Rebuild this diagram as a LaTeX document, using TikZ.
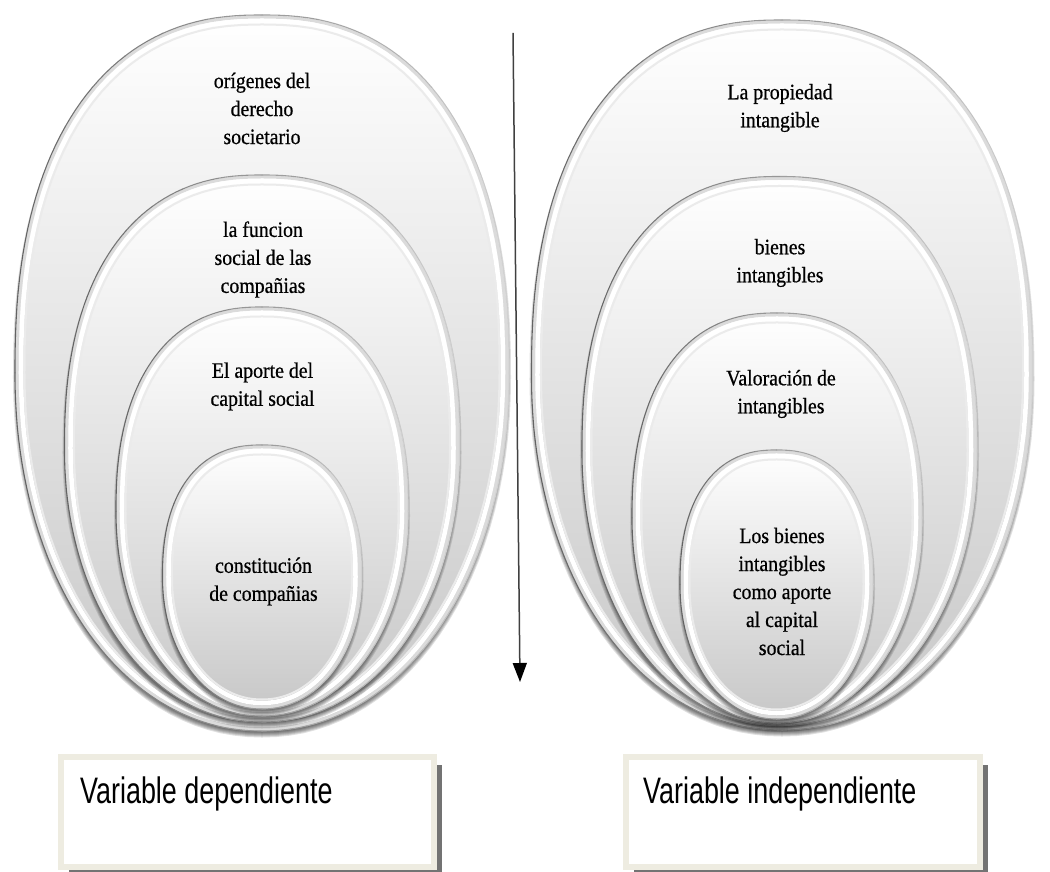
\documentclass[tikz,border=0pt]{standalone}
\usepackage{fontspec}
\setmainfont{Liberation Serif}
\newfontfamily\ovalfont[FakeStretch=0.9,FakeBold=0.6]{Liberation Serif}
\newfontfamily\boxfont[FakeStretch=0.73]{Liberation Sans}
\usetikzlibrary{arrows.meta,shadows}

\definecolor{panelbeige}{HTML}{EEECE1}

% Egg-like oval path: fuller upper half, elliptic lower half.
% Centre (#1,#2), radii #3, #4, angular range #5..#6, #7 samples
\newcommand\sovalarc[7]{%
  plot[domain=#5:#6, samples=#7, variable=\t]
    ({(#1)+(#3)*ifthenelse(cos(\t)<0,-1,1)*pow(abs(cos(\t))+0.0001,ifthenelse(sin(\t)<0,0.97,0.85))},
     {(#2)+(#4)*ifthenelse(sin(\t)<0,-1,1)*pow(abs(sin(\t))+0.0001,ifthenelse(sin(\t)<0,0.97,0.85))})}
\newcommand\soval[4]{\sovalarc{#1}{#2}{#3}{#4}{0}{357}{120} -- cycle}

% One bevelled oval: centre (#1,#2), radii #3 and #4 (in bp)
\newcommand\ovalring[4]{%
  % soft shadow under the oval
  \foreach \k in {0,...,5}{%
    \fill[black,opacity=0.12] \soval{#1}{#2-4.5}{#3+2-\k}{#4+2-\k};
  }
  % body with a top-to-bottom gradient
  \shade[top color=white, middle color=black!4, bottom color=black!22] \soval{#1}{#2}{#3}{#4};
  % bevel bands
  \draw[black!14, line width=3bp] \soval{#1}{#2}{#3-2}{#4-2};
  \draw[white, line width=4.5bp] \soval{#1}{#2}{#3-6}{#4-6};
  \draw[black!8, line width=2bp] \soval{#1}{#2}{#3-9.5}{#4-9.5};
  % rim: darker on the left, lighter on the right
  \foreach \a in {0,10,...,350}{%
    \pgfmathtruncatemacro\rimshade{40-22*cos(\a+5)}%
    \draw[black!\rimshade, line width=1.1bp, line cap=round, line join=round]
      \sovalarc{#1}{#2}{#3}{#4}{\a}{\a+10}{6};
  }%
}

\tikzset{
  ovaltext/.style={align=center, inner sep=0pt, text=black,
    font=\ovalfont\fontsize{22.1}{28.1}\selectfont},
  varbox/.style={draw=panelbeige, line width=6bp, fill=white, inner sep=0pt, outer sep=0pt,
    minimum height=110bp,
    drop shadow={shadow xshift=8bp, shadow yshift=-8bp, fill=black!55, opacity=1}},
  vartext/.style={inner sep=0pt, text=black, font=\boxfont\fontsize{37}{44}\selectfont},
  flowarrow/.style={black!75, line width=1.5bp, -{Triangle[length=19bp,width=14bp,color=black]}}
}

\begin{document}
\begin{tikzpicture}[x=1bp,y=1bp]
\useasboundingbox (0,0) rectangle (1050,872);
\fill[white] (0,0) rectangle (1050,872);

% left nest of ovals
\ovalring{262}{499}{247}{358}
\ovalring{262}{423.5}{197.5}{273.5}
\ovalring{262}{360.5}{146}{204.5}
\ovalring{262}{295}{99.5}{132}

\node[ovaltext] (origenes) at (262,763.5) {orígenes del\\derecho\\societario};
\node[ovaltext] (funcion)  at (263,612.5) {la funcion\\social de las\\compañias};
\node[ovaltext] (aporte)   at (262.5,485.5) {El aporte del\\capital social};
\node[ovaltext] (constit)  at (263.5,290.5) {constitución\\de compañias};

% right nest of ovals
\ovalring{782}{497}{250.5}{355}
\ovalring{779.5}{421}{197.5}{274.5}
\ovalring{777}{354}{145}{205}
\ovalring{776.5}{287.5}{96.5}{134.5}

\node[ovaltext] (propiedad)  at (780,764) {La propiedad\\intangible};
\node[ovaltext] (bienes)     at (780,609) {bienes\\intangibles};
\node[ovaltext] (valoracion) at (781,478) {Valoración de\\intangibles};
\node[ovaltext] (aportecap)  at (782,280.5) {Los bienes\\intangibles\\como aporte\\al capital\\social};

% central downward arrow
\coordinate (arrowtop) at (513,839);
\coordinate (arrowtip) at (520,190);
\draw[flowarrow] (arrowtop) -- (arrowtip);

% variable panels
\node[varbox, minimum width=373bp] (depbox) at (247.5,60) {};
\node[varbox, minimum width=354bp] (indbox) at (803,60) {};
\node[vartext, anchor=base west] (deplabel) at (80,68) {Variable dependiente};
\node[vartext, anchor=base west] (indlabel) at (643,68) {Variable independiente};
\end{tikzpicture}
\end{document}
